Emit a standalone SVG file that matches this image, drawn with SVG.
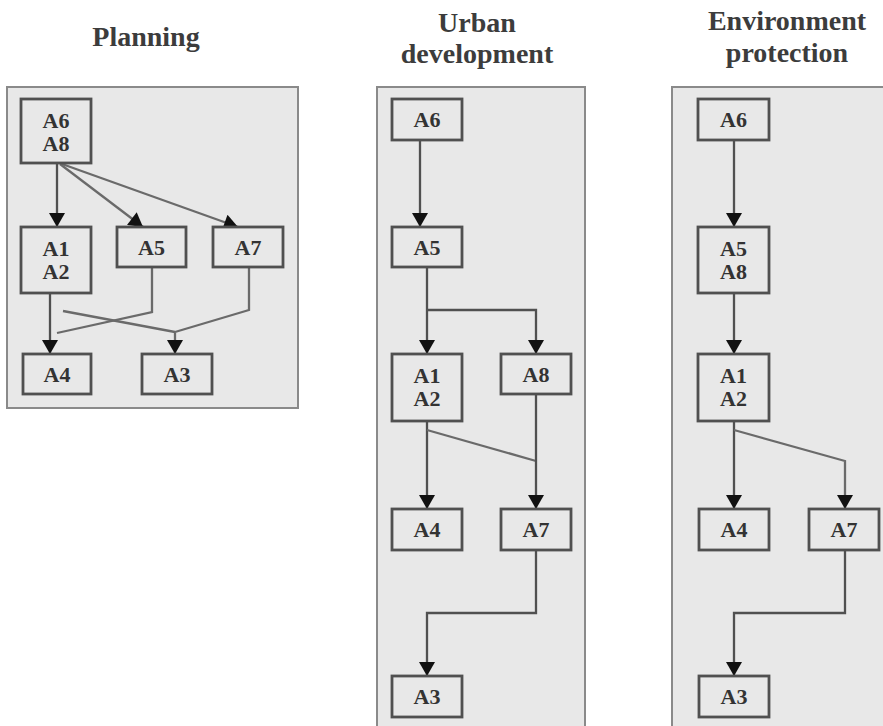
<svg xmlns="http://www.w3.org/2000/svg" width="883" height="726" viewBox="0 0 883 726">
<style>
  .title { font-family: 'Liberation Serif', 'DejaVu Serif', 'Times New Roman', serif; font-weight: bold; font-size: 28px; fill: #3c3c3c; text-anchor: middle; }
  .panel { fill: #e8e8e8; stroke: #8a8a8a; stroke-width: 2; }
  .node rect { fill: #e8e8e8; stroke: #505050; stroke-width: 2.8; }
  .node text { font-family: 'Liberation Serif', 'DejaVu Serif', 'Times New Roman', serif; font-weight: bold; font-size: 22px; fill: #333; text-anchor: middle; }
  .edge { fill: none; stroke: #505050; stroke-width: 2.3; }
  .edge.light { stroke: #6a6a6a; }
</style>
<defs>
  <marker id="arr" markerUnits="userSpaceOnUse" markerWidth="16" markerHeight="16" viewBox="0 0 14 16" refX="14" refY="8" orient="auto">
    <path d="M0,0 L14,8 L0,16 z" fill="#111"/>
  </marker>
</defs>

<rect width="883" height="726" fill="#fff"/>

<text class="title" x="146" y="46">Planning</text>
<text class="title" x="477" y="32">Urban</text>
<text class="title" x="477" y="63">development</text>
<text class="title" x="787" y="30">Environment</text>
<text class="title" x="787" y="62">protection</text>

<rect class="panel" x="7" y="87" width="291" height="321"/>
<rect class="panel" x="377" y="87" width="208" height="650"/>
<rect class="panel" x="672" y="87" width="230" height="650"/>

<g id="connectors">
  <path class="edge" d="M57,163 L57,227" marker-end="url(#arr)"/>
  <path class="edge light" d="M60,164 L143,227" marker-end="url(#arr)"/>
  <path class="edge light" d="M62,164 L238,227" marker-end="url(#arr)"/>
  <path class="edge" d="M50,293 L50,354" marker-end="url(#arr)"/>
  <path class="edge light" d="M152,267 L152,312 L57,333"/>
  <path class="edge light" d="M249,267 L249,310 L175,332 L175,354" marker-end="url(#arr)"/>
  <path class="edge light" d="M63,311 L175,332"/>

  <path class="edge" d="M420,140 L420,227" marker-end="url(#arr)"/>
  <path class="edge" d="M427,267 L427,354" marker-end="url(#arr)"/>
  <path class="edge" d="M427,310 L536,310 L536,354" marker-end="url(#arr)"/>
  <path class="edge" d="M427,421 L427,509" marker-end="url(#arr)"/>
  <path class="edge light" d="M427,430 L536,461"/>
  <path class="edge" d="M536,394 L536,509" marker-end="url(#arr)"/>
  <path class="edge" d="M536,550 L536,613 L427,613 L427,676" marker-end="url(#arr)"/>

  <path class="edge" d="M734,140 L734,227" marker-end="url(#arr)"/>
  <path class="edge" d="M734,293 L734,354" marker-end="url(#arr)"/>
  <path class="edge" d="M734,421 L734,509" marker-end="url(#arr)"/>
  <path class="edge light" d="M734,430 L845,461 L845,509" marker-end="url(#arr)"/>
  <path class="edge" d="M845,550 L845,613 L734,613 L734,676" marker-end="url(#arr)"/>
</g>

<g id="p-a6a8" class="node"><rect x="21" y="99" width="70" height="64"/><text x="56" y="128">A6</text><text x="56" y="151">A8</text></g>
<g id="p-a1a2" class="node"><rect x="21" y="227" width="70" height="66"/><text x="56" y="256">A1</text><text x="56" y="279">A2</text></g>
<g id="p-a5" class="node"><rect x="117" y="227" width="69" height="40"/><text x="151.5" y="255">A5</text></g>
<g id="p-a7" class="node"><rect x="213" y="227" width="70" height="40"/><text x="248" y="255">A7</text></g>
<g id="p-a4" class="node"><rect x="23" y="354" width="68" height="40"/><text x="57" y="382">A4</text></g>
<g id="p-a3" class="node"><rect x="142" y="354" width="70" height="40"/><text x="177" y="382">A3</text></g>

<g id="u-a6" class="node"><rect x="392" y="99" width="70" height="41"/><text x="427" y="127">A6</text></g>
<g id="u-a5" class="node"><rect x="392" y="227" width="70" height="40"/><text x="427" y="255">A5</text></g>
<g id="u-a1a2" class="node"><rect x="392" y="354" width="70" height="67"/><text x="427" y="383">A1</text><text x="427" y="406">A2</text></g>
<g id="u-a8" class="node"><rect x="501" y="354" width="70" height="40"/><text x="536" y="382">A8</text></g>
<g id="u-a4" class="node"><rect x="392" y="509" width="70" height="41"/><text x="427" y="537">A4</text></g>
<g id="u-a7" class="node"><rect x="501" y="509" width="70" height="41"/><text x="536" y="537">A7</text></g>
<g id="u-a3" class="node"><rect x="392" y="676" width="70" height="41"/><text x="427" y="704">A3</text></g>

<g id="e-a6" class="node"><rect x="698" y="99" width="71" height="41"/><text x="733.5" y="127">A6</text></g>
<g id="e-a5a8" class="node"><rect x="698" y="227" width="71" height="66"/><text x="733.5" y="256">A5</text><text x="733.5" y="279">A8</text></g>
<g id="e-a1a2" class="node"><rect x="698" y="354" width="71" height="67"/><text x="733.5" y="383">A1</text><text x="733.5" y="406">A2</text></g>
<g id="e-a4" class="node"><rect x="699" y="509" width="70" height="41"/><text x="734" y="537">A4</text></g>
<g id="e-a7" class="node"><rect x="809" y="509" width="70" height="41"/><text x="844" y="537">A7</text></g>
<g id="e-a3" class="node"><rect x="699" y="676" width="70" height="41"/><text x="734" y="704">A3</text></g>
</svg>
